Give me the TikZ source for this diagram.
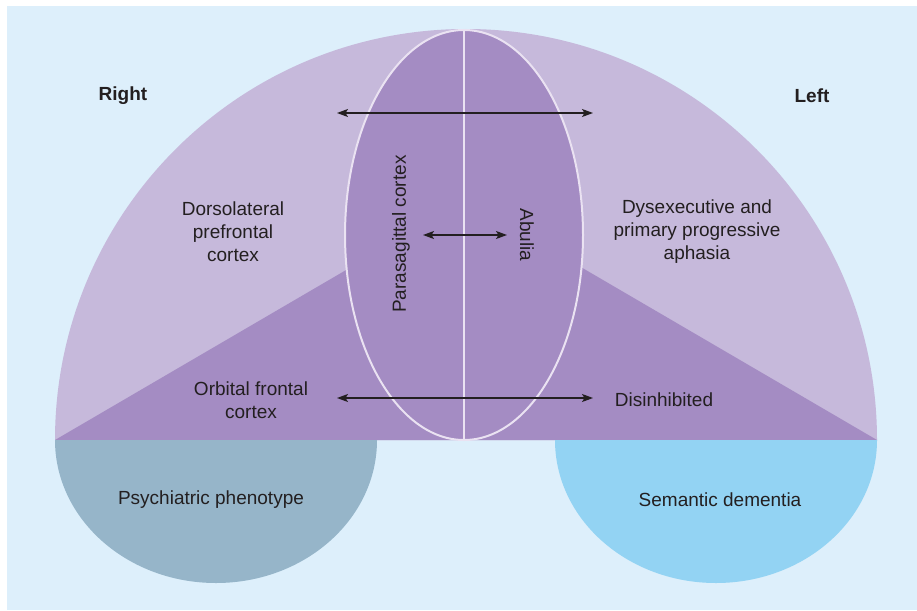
\documentclass[tikz,border=0pt]{standalone}
\usepackage{fontspec}
\setmainfont{Liberation Sans}
\usepackage{xcolor}
\usepackage{tikz}
\usetikzlibrary{arrows.meta}

\definecolor{bgblue}{HTML}{DDEFFB}
\definecolor{lobelight}{HTML}{C6B9DB}
\definecolor{lobedark}{HTML}{A48CC3}
\definecolor{lobeline}{HTML}{EAE2F2}
\definecolor{psychgrey}{HTML}{96B5C9}
\definecolor{semblue}{HTML}{93D3F3}
\definecolor{textdark}{HTML}{231F20}

\begin{document}
\begin{tikzpicture}[x=1pt, y=-1pt,
        region/.style={text=textdark, align=center, inner sep=0pt,
          font=\fontsize{19}{23}\selectfont},
        side/.style={region, font=\fontsize{19}{23}\selectfont\bfseries},
        link/.style={{Stealth[length=11pt,width=8pt,inset=2.5pt]}-{Stealth[length=11pt,width=8pt,inset=2.5pt]},
          line width=1.2pt, textdark}]
        \useasboundingbox (0,0) rectangle (917,610);
        \fill[bgblue] (7,6) rectangle (917,610);
        % frontal lobes
        \fill[lobelight] (55,440) arc[start angle=180, end angle=360, radius=411] -- cycle;
        \fill[lobedark] (55,440) -- (466,200) -- (877,440) -- cycle;
        % lower halves
        \fill[psychgrey] (55,440) arc[start angle=180, end angle=0,
          x radius=161, y radius=143] -- cycle;
        \fill[semblue] (555,440) arc[start angle=180, end angle=0,
          x radius=161, y radius=143] -- cycle;
        % parasagittal region
        \draw[lobeline, line width=2pt, fill=lobedark] (464,235)
          ellipse[x radius=119, y radius=205];
        \draw[lobeline, line width=1.6pt] (464,30) -- (464,440);

        \node[side] (right) at (123,96) {Right};
        \node[side] (left) at (812,96) {Left};
        \node[region] (dlpfc) at (233,232) {Dorsolateral\\prefrontal\\cortex};
        \node[region] (dysexec) at (697,232)
          {Dysexecutive and\\primary progressive\\aphasia};
        \node[region] (ofc) at (251,400) {Orbital frontal\\cortex};
        \node[region] (disinh) at (664,400) {Disinhibited};
        \node[region, rotate=90] (parasag) at (401,234) {Parasagittal cortex};
        \node[region, rotate=-90] (abulia) at (527,235) {Abulia};
        \node[region] (psych) at (211,500) {Psychiatric phenotype};
        \node[region] (semantic) at (720,500) {Semantic dementia};

        \coordinate (topL) at (337,113);
        \coordinate (topR) at (593,113);
        \coordinate (midL) at (423,235);
        \coordinate (midR) at (507,235);
        \coordinate (lowL) at (337,398);
        \coordinate (lowR) at (593,398);
        \draw[link] (topL) -- (topR);
        \draw[link] (midL) -- (midR);
        \draw[link] (lowL) -- (lowR);
      \end{tikzpicture}
\end{document}
